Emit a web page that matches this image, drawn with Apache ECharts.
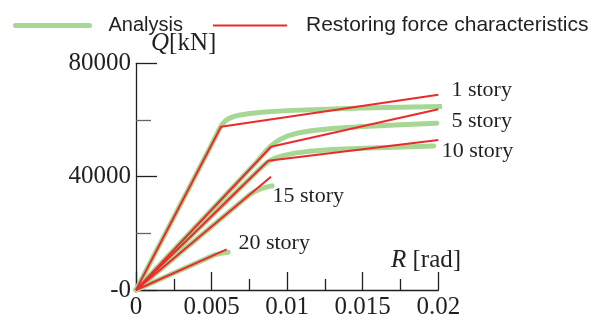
<!DOCTYPE html>
<html>
<head>
<meta charset="utf-8">
<script src="https://cdn.jsdelivr.net/npm/echarts@6/dist/echarts.min.js"></script>
<style>html,body{margin:0;padding:0;background:#fff}#c{width:598px;height:322px}</style>
</head>
<body>
<div id="c"></div>
<script>
// ---- data ----
const storyNames = ['1 story', '5 story', '10 story', '15 story', '20 story'];

// Restoring force characteristics (bilinear), R [rad] and Q [kN]
const rf1R = [0, 0.00562, 0.02];
const rf1Q = [0, 57630, 68900];
const rf5R = [0, 0.00893, 0.02];
const rf5Q = [0, 50570, 63770];
const rf10R = [0, 0.00875, 0.02];
const rf10Q = [0, 45630, 52940];
const rf15R = [0, 0.00893];
const rf15Q = [0, 39990];
const rf20R = [0, 0.0060];
const rf20Q = [0, 14360];

// Analysis curves
const an1R = [0, 0.0050, 0.0053, 0.0055, 0.0057, 0.0059, 0.0061, 0.0064, 0.0068, 0.0074, 0.0085, 0.0100, 0.0125, 0.0150, 0.0175, 0.0204];
const an1Q = [0, 51300, 54500, 56700, 58400, 59600, 60400, 61100, 61700, 62200, 62800, 63300, 63800, 64200, 64500, 64750];
const an5R = [0, 0.0080, 0.0083, 0.0086, 0.0089, 0.0092, 0.0096, 0.0101, 0.0108, 0.0117, 0.0130, 0.0150, 0.0175, 0.0199];
const an5Q = [0, 45300, 47200, 49100, 50700, 52000, 53300, 54500, 55500, 56300, 57000, 57700, 58350, 58850];
const an10R = [0, 0.0080, 0.0083, 0.0086, 0.0089, 0.0093, 0.0098, 0.0105, 0.0115, 0.0130, 0.0155, 0.0197];
const an10Q = [0, 41720, 43300, 44700, 45800, 46700, 47500, 48300, 48950, 49550, 50100, 50800];
const an15R = [0, 0.0075, 0.0079, 0.0083, 0.0087, 0.0090];
const an15Q = [0, 33580, 34900, 35800, 36400, 36750];
const an20R = [0, 0.0052, 0.0056, 0.0061];
const an20Q = [0, 12400, 12950, 13300];

// story label anchors (data coordinates of label centres)
const labelR = [0.02287, 0.02287, 0.02259, 0.0114, 0.00914];
const labelQ = [70330, 59390, 48810, 33170, 16480];

const xTicks = [0, 0.005, 0.01, 0.015, 0.02];
const yTicks = [0, 40000, 80000];

// ---- build ----
const zip = (a, b) => a.map((v, i) => [v, b[i]]);
const GREEN = '#a7d795';
const RED = '#ec2a2c';
const TXT = '#231f20';
const anSets = [[an1R, an1Q], [an5R, an5Q], [an10R, an10Q], [an15R, an15Q], [an20R, an20Q]];
const rfSets = [[rf1R, rf1Q], [rf5R, rf5Q], [rf10R, rf10Q], [rf15R, rf15Q], [rf20R, rf20Q]];

const series = [];
anSets.forEach(s => series.push({
  type: 'line', name: 'Analysis', data: zip(s[0], s[1]), symbol: 'none',
  smooth: false, clip: false,
  lineStyle: { color: GREEN, width: 5, cap: 'round', join: 'round' }, itemStyle: { color: GREEN }
}));
rfSets.forEach(s => series.push({
  type: 'line', name: 'Restoring force characteristics', data: zip(s[0], s[1]), symbol: 'none',
  clip: false, lineStyle: { color: RED, width: 2 }, itemStyle: { color: RED }
}));
series.push({
  type: 'scatter', data: labelR.map((v, i) => [v, labelQ[i], storyNames[i]]),
  symbolSize: 0, itemStyle: { color: TXT }, clip: false, silent: true,
  label: { show: true, position: 'inside', formatter: p => p.data[2], opacity: 1,
    fontFamily: 'Liberation Serif', fontSize: 22, color: TXT, textBorderWidth: 0 }
});

const chart = echarts.init(document.getElementById('c'), null, { renderer: 'canvas' });
chart.setOption({
  animation: false,
  backgroundColor: '#fff',
  grid: { left: 136, top: 63.3, width: 302.3, height: 226.7, containLabel: false },
  legend: {
    data: [
      { name: 'Analysis', lineStyle: { width: 5, cap: 'round', color: GREEN } },
      { name: 'Restoring force characteristics', lineStyle: { width: 2, color: RED } }
    ],
    left: 8, top: 10, itemWidth: 74, itemHeight: 14, itemGap: 29,
    itemStyle: { opacity: 0 },
    formatter: n => (n === 'Analysis' ? '{p|' : '{q|') + n + '}',
    textStyle: { fontFamily: 'Liberation Sans', fontSize: 20, color: TXT,
      rich: { p: { fontFamily: 'Liberation Sans', fontSize: 20, color: TXT, padding: [0, 0, 0, 14] },
              q: { fontFamily: 'Liberation Sans', fontSize: 21, color: TXT, padding: [0, 0, 0, 14] } } }
  },
  xAxis: {
    type: 'value', min: xTicks[0], max: xTicks[xTicks.length - 1], interval: xTicks[1] - xTicks[0],
    axisLine: { onZero: false, lineStyle: { color: TXT, width: 1.3 } },
    axisTick: { inside: true, length: 18, lineStyle: { color: TXT, width: 1.3 } },
    minorTick: { show: true, splitNumber: 2, length: 11, lineStyle: { color: TXT, width: 1.3 } },
    splitLine: { show: false },
    axisLabel: { fontFamily: 'Liberation Serif', fontSize: 25, color: TXT, margin: 5,
      formatter: v => String(Number(v.toFixed(4))) }
  },
  yAxis: {
    type: 'value', min: yTicks[0], max: yTicks[yTicks.length - 1], interval: yTicks[1] - yTicks[0],
    axisLine: { show: true, onZero: false, lineStyle: { color: TXT, width: 1.3 } },
    axisTick: { show: true, inside: true, length: 21, lineStyle: { color: TXT, width: 1.3 } },
    minorTick: { show: true, splitNumber: 2, length: 15, lineStyle: { color: '#666', width: 1.3 } },
    splitLine: { show: false },
    axisLabel: { fontFamily: 'Liberation Serif', fontSize: 25, color: TXT, margin: 5,
      formatter: v => v === 0 ? '-0' : String(v) }
  },
  graphic: [
    { type: 'text', left: 151, top: 31, silent: true,
      style: { text: '{i|Q}{n|[kN]}', fill: TXT,
        rich: { i: { fontFamily: 'Liberation Serif', fontStyle: 'italic', fontSize: 25, fill: TXT },
                n: { fontFamily: 'Liberation Serif', fontSize: 25, fill: TXT } } } },
    { type: 'text', left: 391, top: 248, silent: true,
      style: { text: '{i|R}{n| [rad]}', fill: TXT,
        rich: { i: { fontFamily: 'Liberation Serif', fontStyle: 'italic', fontSize: 25, fill: TXT },
                n: { fontFamily: 'Liberation Serif', fontSize: 25, fill: TXT } } } }
  ],
  series: series
});
</script>
</body>
</html>
